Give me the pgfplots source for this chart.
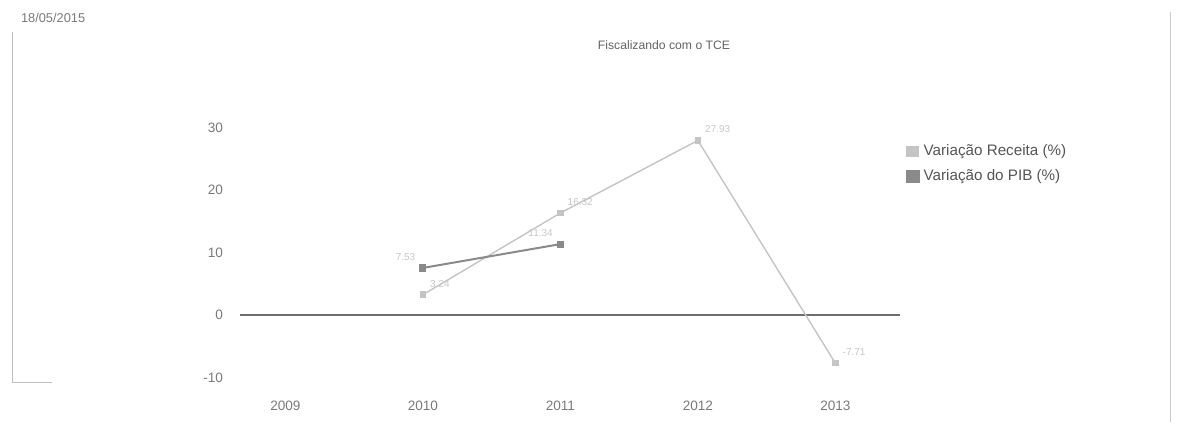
\documentclass[border=0pt]{standalone}
\usepackage{fontspec}
\setmainfont{Liberation Sans}
\usepackage{pgfplots}
\pgfplotsset{compat=1.18}
\definecolor{rec}{HTML}{C4C4C4}
\definecolor{pib}{HTML}{8A8A8A}
\definecolor{txt}{HTML}{7A7A7A}
\begin{document}
\begin{tikzpicture}
\path[use as bounding box] (0pt,0pt) rectangle (589pt,216pt);
\node[anchor=west, font=\fontsize{6.4}{7}\selectfont, text=txt] at (7pt,207pt) {18/05/2015};
\draw[gray!50, line width=0.4pt] (6pt,200pt) -- (6pt,25pt) -- (26pt,25pt);
\draw[gray!40, line width=0.4pt] (585pt,210pt) -- (585pt,5pt);
\node[font=\fontsize{6.1}{7}\selectfont, text=txt!80!black] at (332pt,193.5pt) {Fiscalizando com o TCE};
\begin{axis}[
  at={(120pt,21pt)}, anchor=south west,
  scale only axis, width=330pt, height=162.5pt,
  xmin=-0.33, xmax=4.47, ymin=-12, ymax=40,
  axis line style={draw=none},
  major tick length=0pt,
  xtick={0,1,2,3,4},
  xticklabels={2009,2010,2011,2012,2013},
  ytick={-10,0,10,20,30},
  ticklabel style={font=\fontsize{6.8}{7}\selectfont, text=txt},
  /pgf/number format/assume math mode=true,
  yticklabel style={xshift=-5pt},
  xticklabel style={yshift=-2pt},
  extra y ticks={0},
  extra y tick labels={},
  extra y tick style={grid=major, grid style={pib!80!black, line width=0.6pt}},
  legend style={at={(1.005,0.775)}, anchor=north west, draw=none, fill=none,
    font=\fontsize{7.6}{8}\selectfont, text=txt!70!black, row sep=1.5pt,
    inner sep=1pt},
  legend cell align=left,
  legend image code/.code={\fill[#1] (0pt,-2.6pt) rectangle (6pt,2.6pt);},
  nodes near coords,
  every node near coord/.append style={font=\fontsize{5}{5}\selectfont, text=gray!45},
  clip=false,
]
\addplot[rec, line width=0.7pt, mark=square*, mark size=1.3pt, mark options={fill=rec},
  nodes near coords align={anchor=south west}]
  coordinates {(1,3.24) (2,16.32) (3,27.93) (4,-7.71)};
\addlegendentry{Variação Receita (\%)}
\addplot[pib, line width=1pt, mark=square*, mark size=1.3pt, mark options={fill=pib},
  nodes near coords align={anchor=south east}]
  coordinates {(1,7.53) (2,11.34)};
\addlegendentry{Variação do PIB (\%)}
\end{axis}
\end{tikzpicture}
\end{document}
